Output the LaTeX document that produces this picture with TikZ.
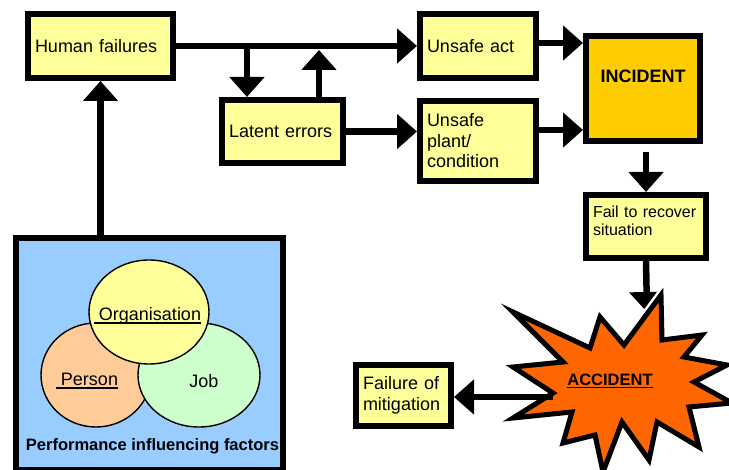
\documentclass[tikz,border=0pt]{standalone}
\usepackage{fontspec}
\setmainfont{Liberation Sans}
\usetikzlibrary{arrows.meta}
\definecolor{boxyellow}{HTML}{FFFF99}
\definecolor{incorange}{HTML}{FFCC00}
\definecolor{accorange}{HTML}{FF6600}
\definecolor{pifblue}{HTML}{99CCFF}
\definecolor{persorange}{HTML}{FFCC99}
\definecolor{jobgreen}{HTML}{CCFFCC}
\newcommand{\undl}[1]{\setbox0=\hbox{#1}\rlap{\rule[-3.2pt]{\wd0}{1.6pt}}\box0}

\begin{document}
\begin{tikzpicture}[x=1pt,y=-1pt,
  box/.style={draw=black, line width=6pt, fill=boxyellow, align=left, inner xsep=7pt,
    font=\fontsize{18}{20.5}\selectfont},
  arr/.style={line width=6.5pt, -{Triangle[length=20pt,width=34pt]}},
  venn/.style={draw=black, line width=1.4pt}]
\useasboundingbox (0,0) rectangle (729,470);

% boxes of the chain
\node[box, text width=131pt, minimum height=64pt] (hum) at (100.5,46) {Human failures};
\node[box, text width=107pt, minimum height=63pt] (lat) at (282.5,131.5) {Latent errors};
\node[box, text width=102pt, minimum height=64pt] (act) at (478,46) {Unsafe act};
\node[box, text width=102pt, minimum height=80pt] (plant) at (478,141) {Unsafe\\plant/\\condition};
\node[box, fill=incorange, minimum width=114pt, minimum height=105pt, text height=13pt, text depth=24pt,
  font=\bfseries\fontsize{18}{20}\selectfont] (inc) at (643,88.5) {INCIDENT};
\node[box, text width=106pt, minimum height=63pt, text height=12pt, text depth=29pt,
  font=\fontsize{16}{18}\selectfont] (rec) at (646,226.5) {Fail to recover\\situation};
\node[box, text width=81pt, minimum height=61pt] (mit) at (403.5,395.5) {Failure of\\mitigation};

% performance influencing factors
\node[draw=black, line width=6pt, fill=pifblue, minimum width=267pt, minimum height=232pt] (pif) at (149.5,354) {};
\draw[venn, fill=persorange] (96,375) ellipse [x radius=55, y radius=52];
\draw[venn, fill=jobgreen] (199,375) ellipse [x radius=61, y radius=52];
\draw[venn, fill=boxyellow] (149,312) ellipse [x radius=60, y radius=52];
\node[font=\fontsize{18}{20}\selectfont] (org) at (147.5,316) {\undl{\ Organisation}};
\node[font=\fontsize{18}{20}\selectfont] (pers) at (87,381) {\undl{\ Person}};
\node[font=\fontsize{18}{20}\selectfont] (job) at (204,381) {Job};
\node[font=\bfseries\fontsize{16.5}{18}\selectfont] (pifl) at (152.5,446) {Performance influencing factors};

% connectors
\coordinate (split) at (247,46);
\coordinate (join) at (319,50);
\coordinate (incdown) at (646,152);
\coordinate (acctop) at (647,312);
\coordinate (accwest) at (553,397);
\draw[arr] (hum.south |- pif.north) -- (hum.south);
\draw[arr] (hum.east) -- (act.west);
\draw[arr] (split) -- (split |- lat.north);
\draw[arr] (join |- lat.north) -- (join);
\draw[arr] (lat.east) -- (lat.east -| plant.west);
\draw[arr] ([yshift=3pt]act.east) -- ([yshift=3pt]act.east -| inc.west);
\draw[arr] ([yshift=11pt]plant.east) -- ([yshift=11pt]plant.east -| inc.west);
\draw[arr] (incdown) -- (rec.north);
\draw[arr] (rec.south) -- (acctop);

% accident burst
\def\burst{(513,312) -- (590,348) -- (600,317) -- (624,345) -- (661,295) -- (662,340) -- (702,335)
  -- (684,357) -- (727,365) -- (694,382) -- (732,403) -- (689,407) -- (699,447) -- (657,422)
  -- (649,460) -- (622,422) -- (603,472) -- (595,435) -- (563,443) -- (572,412) -- (513,418)
  -- (553,393) -- (513,367) -- (563,362) -- cycle}
\draw[white, line width=10pt, line join=round] \burst;
\draw[fill=accorange, line width=5pt] \burst;
\node[font=\bfseries\fontsize{16.5}{18}\selectfont] (acc) at (610,381) {\undl{ACCIDENT}};
\draw[arr] (accwest) -- (accwest -| mit.east);
\end{tikzpicture}
\end{document}
